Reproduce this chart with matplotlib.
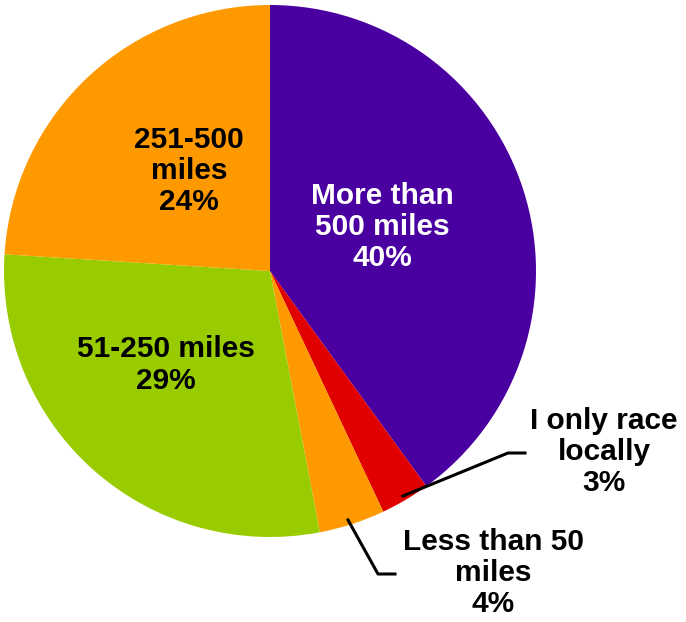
import matplotlib
matplotlib.use("Agg")
import matplotlib.pyplot as plt
from matplotlib.lines import Line2D

categories = ["More than\n500 miles", "I only race\nlocally", "Less than 50\nmiles", "51-250 miles", "251-500\nmiles"]
values = [40, 3, 4, 29, 24]
colors = ["#4A00A0", "#E00000", "#FF9900", "#99CC00", "#FF9900"]
text_colors = ["white", "black", "black", "black", "black"]

W, H = 686, 622
fig = plt.figure(figsize=(W / 100, H / 100), dpi=100)
plt.rcParams['font.family'] = ['Liberation Sans', 'DejaVu Sans']

cx, cy, r = 270, 271, 266
ax = fig.add_axes([(cx - r) / W, (H - cy - r) / H, 2 * r / W, 2 * r / H])
ax.pie(values, colors=colors, startangle=90, counterclock=False,
       wedgeprops=dict(linewidth=0))
ax.set_xlim(-1, 1)
ax.set_ylim(-1, 1)
ax.set_aspect("equal")
ax.axis("off")

def px(x, y):
    return x / W, 1 - y / H

fs = 21.5
ls = 1.15
# inside labels (pixel positions of label centres)
inside = {0: (382, 227), 3: (166, 365), 4: (189, 171)}
for i, (x, y) in inside.items():
    fig.text(*px(x, y), f"{categories[i]}\n{values[i]}%", ha="center", va="center",
             fontsize=fs, fontweight="bold", color=text_colors[i], linespacing=ls)

# outside labels
fig.text(*px(604, 452), f"{categories[1]}\n{values[1]}%", ha="center", va="center",
         fontsize=fs, fontweight="bold", color="black", linespacing=ls)
fig.text(*px(493, 573), f"{categories[2]}\n{values[2]}%", ha="center", va="center",
         fontsize=fs, fontweight="bold", color="black", linespacing=ls)

for pts in ([(403, 496), (508, 453), (525, 453)], [(348, 520), (378, 574), (395, 574)]):
    xs = [p[0] / W for p in pts]
    ys = [1 - p[1] / H for p in pts]
    fig.add_artist(Line2D(xs, ys, color="black", linewidth=2.2, transform=fig.transFigure))

fig.savefig("out.png", dpi=100)
